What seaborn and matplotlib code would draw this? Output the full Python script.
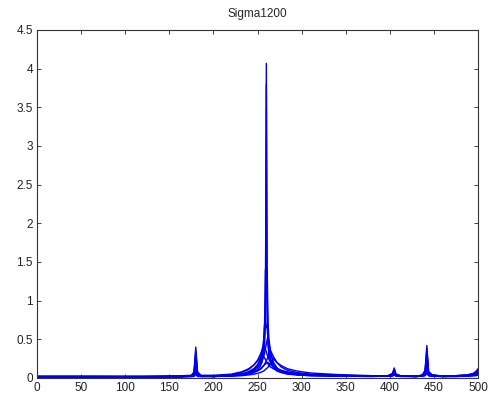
import numpy as np
import pandas as pd
import matplotlib
matplotlib.use("Agg")
import matplotlib.pyplot as plt
import seaborn as sns

title = "Sigma1200"
x_pts = [0, 60, 120, 165, 175, 178, 180, 182, 186, 200, 220, 232, 240, 246, 250, 253, 255, 257, 258, 259,
         260, 261, 262, 263, 265, 268, 272, 277, 284, 295, 310, 340, 380, 398, 403, 405, 407, 412, 430, 437,
         440, 442, 444, 448, 460, 475, 488, 495, 498, 500]

s1 = [0.02,0.02,0.015,0.02,0.03,0.08,0.40,0.08,0.03,0.02,0.03,0.04,0.06,0.08,0.11,0.15,0.2,0.3,0.42,0.7,
      4.07,0.7,0.42,0.3,0.2,0.13,0.09,0.07,0.05,0.04,0.03,0.025,0.02,0.03,0.06,0.13,0.05,0.03,0.02,0.04,
      0.1,0.42,0.08,0.04,0.025,0.03,0.04,0.06,0.09,0.12]
s2 = [0.02,0.02,0.02,0.02,0.03,0.07,0.35,0.07,0.03,0.02,0.03,0.05,0.07,0.1,0.14,0.19,0.26,0.38,0.55,1.0,
      3.8,1.0,0.55,0.38,0.25,0.16,0.11,0.08,0.06,0.045,0.035,0.028,0.022,0.03,0.05,0.11,0.05,0.03,0.02,0.04,
      0.09,0.38,0.08,0.04,0.025,0.03,0.04,0.06,0.08,0.11]
s3 = [0.015,0.015,0.015,0.02,0.03,0.06,0.3,0.06,0.03,0.02,0.03,0.05,0.08,0.12,0.17,0.24,0.33,0.5,0.7,1.4,
      1.4,1.4,0.7,0.5,0.33,0.2,0.13,0.09,0.065,0.045,0.035,0.028,0.022,0.03,0.05,0.1,0.04,0.025,0.02,0.035,
      0.08,0.32,0.07,0.035,0.025,0.03,0.035,0.05,0.07,0.1]
s4 = [0.015,0.015,0.015,0.02,0.025,0.05,0.25,0.05,0.025,0.02,0.03,0.05,0.08,0.12,0.17,0.23,0.3,0.42,0.7,0.7,
      0.65,0.7,0.45,0.32,0.22,0.14,0.1,0.075,0.055,0.04,0.03,0.025,0.02,0.025,0.04,0.08,0.04,0.025,0.02,0.03,
      0.07,0.28,0.06,0.03,0.02,0.025,0.03,0.045,0.06,0.09]
s5 = [0.02,0.02,0.02,0.02,0.025,0.04,0.2,0.04,0.025,0.02,0.03,0.045,0.07,0.1,0.14,0.18,0.22,0.28,0.32,0.38,
      0.44,0.5,0.55,0.45,0.32,0.2,0.13,0.09,0.065,0.045,0.035,0.028,0.022,0.025,0.035,0.06,0.03,0.022,0.02,0.03,
      0.06,0.22,0.05,0.03,0.02,0.025,0.03,0.04,0.055,0.08]
s6 = [0.02,0.02,0.02,0.025,0.03,0.04,0.15,0.04,0.03,0.025,0.04,0.07,0.11,0.17,0.23,0.3,0.36,0.42,0.4,0.37,
      0.34,0.3,0.27,0.24,0.2,0.16,0.12,0.09,0.07,0.05,0.04,0.03,0.025,0.025,0.03,0.05,0.03,0.022,0.02,0.03,
      0.05,0.18,0.045,0.03,0.02,0.025,0.03,0.04,0.05,0.07]
s7 = [0.015,0.015,0.015,0.02,0.02,0.03,0.1,0.03,0.02,0.02,0.025,0.035,0.05,0.07,0.09,0.11,0.13,0.16,0.18,0.2,
      0.22,0.25,0.28,0.31,0.35,0.28,0.2,0.14,0.1,0.07,0.05,0.035,0.025,0.025,0.03,0.045,0.03,0.02,0.02,0.025,
      0.04,0.14,0.04,0.025,0.02,0.02,0.025,0.035,0.045,0.06]
s8 = [0.02,0.02,0.02,0.03,0.035,0.04,0.08,0.04,0.035,0.035,0.05,0.08,0.12,0.17,0.22,0.26,0.3,0.28,0.26,0.24,
      0.22,0.2,0.18,0.16,0.14,0.12,0.1,0.08,0.065,0.05,0.04,0.03,0.025,0.025,0.03,0.04,0.03,0.025,0.02,0.025,
      0.035,0.1,0.035,0.025,0.02,0.025,0.03,0.035,0.04,0.05]
s9 = [0.01,0.01,0.01,0.015,0.02,0.025,0.06,0.025,0.02,0.02,0.025,0.03,0.04,0.05,0.06,0.07,0.08,0.09,0.1,0.11,
      0.12,0.13,0.14,0.16,0.19,0.25,0.2,0.16,0.12,0.09,0.065,0.045,0.03,0.028,0.03,0.04,0.03,0.025,0.02,0.025,
      0.035,0.08,0.03,0.025,0.02,0.02,0.025,0.03,0.035,0.045]
s10 = [0.01,0.01,0.01,0.015,0.02,0.02,0.05,0.02,0.02,0.02,0.03,0.045,0.06,0.08,0.1,0.12,0.14,0.16,0.17,0.18,
       0.19,0.195,0.2,0.19,0.17,0.15,0.12,0.1,0.08,0.06,0.045,0.035,0.025,0.025,0.03,0.035,0.028,0.022,0.02,0.025,
       0.03,0.06,0.03,0.022,0.02,0.02,0.025,0.03,0.03,0.04]

series = [s1, s2, s3, s4, s5, s6, s7, s8, s9, s10]
x_ticks = [0, 50, 100, 150, 200, 250, 300, 350, 400, 450, 500]
y_ticks = [0, 0.5, 1, 1.5, 2, 2.5, 3, 3.5, 4, 4.5]
y_tick_labels = ["0", "0.5", "1", "1.5", "2", "2.5", "3", "3.5", "4", "4.5"]

rows = []
for i, s in enumerate(series):
    for xv, yv in zip(x_pts, s):
        rows.append({"x": xv, "y": yv, "s": f"s{i+1}"})
df = pd.DataFrame(rows)

sns.set_style("white")
plt.rcParams["font.family"] = ["Liberation Sans", "DejaVu Sans"]

fig = plt.figure(figsize=(4.93, 3.98), dpi=100)
ax = fig.add_axes([37/493, 20/398, 441/493, 348/398])
sns.lineplot(data=df, x="x", y="y", hue="s", palette=["#0000f0"] * len(series),
             estimator=None, legend=False, linewidth=1.0, ax=ax, sort=False)

ax.set_xlim(0, 500)
ax.set_ylim(0, 4.5)
ax.set_xticks(x_ticks)
ax.set_xticklabels([str(t) for t in x_ticks])
ax.set_yticks(y_ticks)
ax.set_yticklabels(y_tick_labels)
ax.set_xlabel("")
ax.set_ylabel("")
ax.set_title(title, fontsize=8.5, pad=9)
ax.tick_params(direction="in", length=3, width=0.6, labelsize=8.5, top=True, right=True,
               bottom=True, left=True, colors="#222222", pad=3)
for sp in ax.spines.values():
    sp.set_visible(True)
    sp.set_color("#333333")
    sp.set_linewidth(0.8)

fig.savefig("out.png", dpi=100, facecolor="white")
